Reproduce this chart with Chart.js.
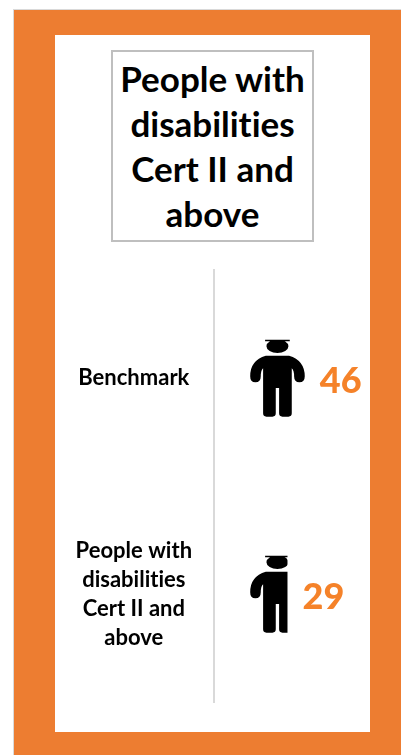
<!DOCTYPE html>
<html>
<head>
<meta charset="utf-8">
<title>People with disabilities Cert II and above</title>
<script src="https://cdn.jsdelivr.net/npm/chart.js@4"></script>
<style>
    html, body { margin: 0; padding: 0; background: #fff; overflow: hidden; }
    #frame {
        position: absolute; left: 13px; top: 9px; width: 388px; height: 746px;
        background: #ed7d31; border-left: 1px solid #d9d9d9; border-top: 1px solid #d9d9d9;
        box-sizing: border-box;
    }
    #panel { position: absolute; left: 55px; top: 35px; width: 315px; height: 697px; background: #fff; }
    #heading {
        position: absolute; left: 111px; top: 50px; width: 203px; height: 192px;
        box-sizing: border-box; border: 2px solid #bfbfbf; background: #fff;
        display: flex; align-items: center; justify-content: center; text-align: center;
        font: 700 35px/45px Lato, sans-serif; color: #000;
        font-variant-ligatures: none;
    }
    #chartBox { position: absolute; left: 55px; top: 263px; width: 315px; height: 447px; }
</style>
</head>
<body>
<div id="frame"></div>
<div id="panel"></div>
<div id="heading"><div>People with<br>disabilities<br>Cert II and<br>above</div></div>
<div id="chartBox"><canvas id="pictogram"></canvas></div>
<script>
    "use strict";

    var categories = ["Benchmark", ["People with", "disabilities", "Cert II and", "above"]];
    var seriesValues = [46, 29];

    Chart.defaults.font.family = "Lato, sans-serif";
    Chart.defaults.animation = false;

    // Person glyph, outlined around its own left edge and vertical middle
    function personPath() {
        var p = new Path2D();
        p.ellipse(82 / 3, -95 / 3, 33 / 3, 20 / 3, 0, 0, Math.PI * 2);
        p.rect(45 / 3, -115 / 3, 74 / 3, 5 / 3);
        p.moveTo(82 / 3, -67 / 3);
        p.lineTo(47 / 3, -67 / 3);
        p.quadraticCurveTo(0, -53 / 3, 0, -5 / 3);
        p.quadraticCurveTo(0, 13 / 3, 16 / 3, 13 / 3);
        p.quadraticCurveTo(32 / 3, 13 / 3, 32 / 3, -5 / 3);
        p.quadraticCurveTo(32 / 3, -23 / 3, 39 / 3, -29 / 3);
        p.lineTo(39 / 3, 106 / 3);
        p.quadraticCurveTo(39 / 3, 116 / 3, 49 / 3, 116 / 3);
        p.lineTo(67 / 3, 116 / 3);
        p.quadraticCurveTo(77 / 3, 116 / 3, 77 / 3, 106 / 3);
        p.lineTo(77 / 3, 30 / 3);
        p.lineTo(87 / 3, 30 / 3);
        p.lineTo(87 / 3, 106 / 3);
        p.quadraticCurveTo(87 / 3, 116 / 3, 97 / 3, 116 / 3);
        p.lineTo(115 / 3, 116 / 3);
        p.quadraticCurveTo(125 / 3, 116 / 3, 125 / 3, 106 / 3);
        p.lineTo(125 / 3, -29 / 3);
        p.quadraticCurveTo(132 / 3, -23 / 3, 132 / 3, -5 / 3);
        p.quadraticCurveTo(132 / 3, 13 / 3, 148 / 3, 13 / 3);
        p.quadraticCurveTo(164 / 3, 13 / 3, 164 / 3, -5 / 3);
        p.quadraticCurveTo(164 / 3, -53 / 3, 117 / 3, -67 / 3);
        p.closePath();
        return p;
    }

    var personWidth = 164 / 3;

    // Fills each bar with the glyph, cut off where the bar ends, then writes its value
    var personBars = {
        id: "personBars",
        beforeDraw: function (chart) {
            // keeps the "ti" in the labels as two letters; a resize resets this
            chart.ctx.letterSpacing = "0.01px";
        },
        afterDatasetsDraw: function (chart) {
            var ctx = chart.ctx;
            var glyph = personPath();
            chart.getDatasetMeta(0).data.forEach(function (bar, i) {
                ctx.save();
                ctx.beginPath();
                ctx.rect(bar.base, bar.y - bar.height / 2, bar.x - bar.base, bar.height);
                ctx.clip();
                ctx.translate(bar.base, bar.y);
                ctx.fillStyle = "#000";
                ctx.fill(glyph);
                ctx.restore();

                ctx.save();
                ctx.fillStyle = "#f58229";
                ctx.font = "900 36px Lato, sans-serif";
                ctx.textAlign = "left";
                ctx.textBaseline = "middle";
                var end = Math.min(bar.x, bar.base + personWidth);
                ctx.fillText(String(seriesValues[i]), end + 15, bar.y + 3);
                ctx.restore();
            });
        }
    };

    var myChart = new Chart(document.getElementById("pictogram").getContext("2d"), {
        type: "bar",
        data: {
            labels: categories,
            datasets: [{
                data: seriesValues,
                backgroundColor: "rgba(0, 0, 0, 0)",
                barThickness: 80
            }]
        },
        options: {
            indexAxis: "y",
            responsive: true,
            maintainAspectRatio: false,
            layout: { padding: { top: 7, bottom: 8 } },
            plugins: {
                legend: { display: false },
                tooltip: { enabled: false }
            },
            scales: {
                x: { display: false, min: -28, max: 93 },
                y: {
                    afterFit: function (scale) {
                        scale.width = 159;
                        // the four line label would otherwise shrink the plot height
                        scale.paddingTop = 0;
                        scale.paddingBottom = 0;
                    },
                    grid: { display: false, drawTicks: false },
                    border: { color: "#d9d9d9", width: 2 },
                    ticks: {
                        crossAlign: "center",
                        color: "#000",
                        padding: 22,
                        font: { size: 22, weight: "700", lineHeight: 1.32 }
                    }
                }
            }
        },
        plugins: [personBars]
    });
</script>
</body>
</html>
